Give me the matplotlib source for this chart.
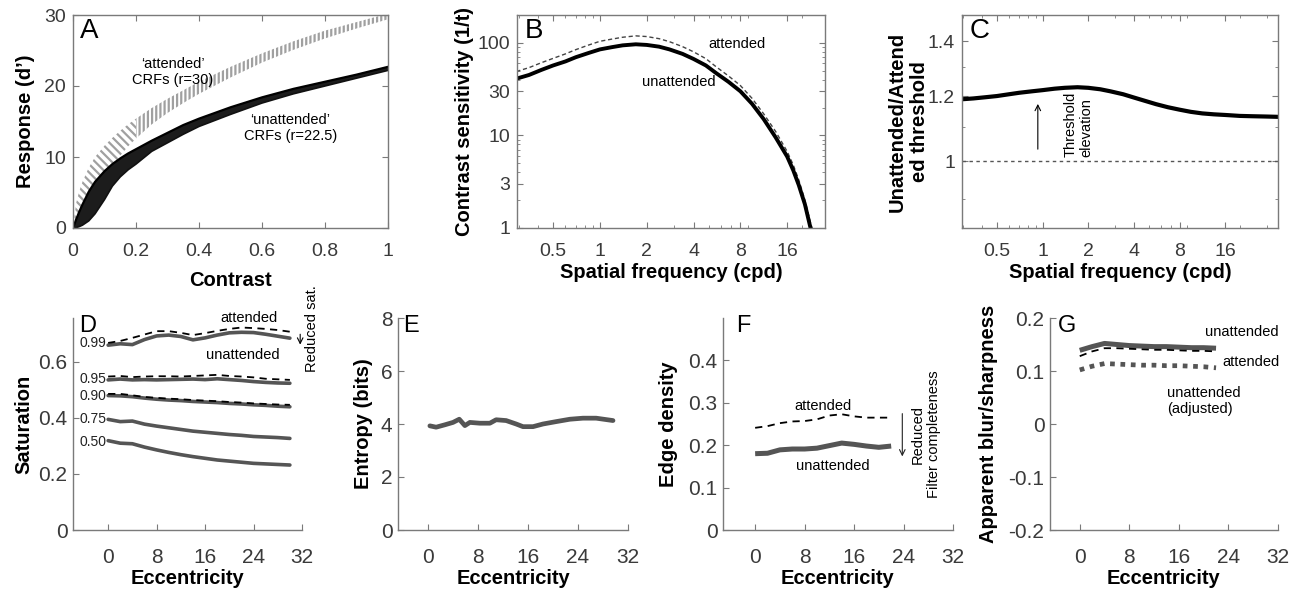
import matplotlib
matplotlib.use("Agg")
import matplotlib.pyplot as plt
import numpy as np
from matplotlib.ticker import FixedLocator, NullFormatter, LogLocator

plt.rcParams['font.family'] = ['Liberation Sans', 'DejaVu Sans']
plt.rcParams['hatch.linewidth'] = 1.6

# ---------------- data ----------------
# Panel A: contrast response function bands
contrast = [0, 0.01, 0.02, 0.03, 0.05, 0.07, 0.1, 0.125, 0.15, 0.175, 0.2, 0.25, 0.3, 0.35, 0.4,
            0.5, 0.6, 0.7, 0.8, 0.9, 1.0]
att_upper = [0, 3.5, 5.2, 6.5, 8.5, 10.0, 11.6, 12.7, 13.7, 14.6, 15.4, 16.9, 18.2, 19.4, 20.6,
             22.7, 24.6, 26.3, 27.8, 29.0, 30.2]
att_lower = [0, 0.3, 0.9, 1.6, 3.2, 4.8, 7.0, 8.8, 10.2, 11.5, 12.6, 14.6, 16.2, 17.6, 18.9,
             21.2, 23.3, 25.1, 26.7, 28.1, 29.4]
unatt_upper = [0, 1.2, 2.3, 3.3, 5.1, 6.5, 8.0, 9.0, 9.8, 10.5, 11.1, 12.3, 13.4, 14.5, 15.4,
               17.0, 18.4, 19.6, 20.6, 21.6, 22.7]
unatt_lower = [0, 0.05, 0.2, 0.4, 1.0, 2.0, 4.0, 5.9, 7.2, 8.2, 9.0, 10.8, 12.0, 13.2, 14.3,
               16.0, 17.6, 18.9, 20.0, 21.1, 22.2]

# Panel B: contrast sensitivity
sf_b = [0.29, 0.35, 0.42, 0.5, 0.6, 0.7, 0.85, 1.0, 1.2, 1.4, 1.7, 2.0, 2.4, 2.8, 3.4, 4.0, 4.8,
        5.6, 6.7, 8.0, 9.5, 11.3, 13.5, 16.0, 17.5, 19.0, 20.8, 22.6, 24.0]
csf_unatt = [41, 45, 51, 57, 63, 70, 78, 85, 90, 94, 96.5, 95, 91, 85, 76, 67, 57,
             47, 38, 30, 22, 15, 9.5, 5.9, 4.2, 2.9, 1.8, 1.0, 0.7]
csf_att = [49, 54, 61, 68, 76, 84.5, 95, 104, 110, 115, 119, 117, 111, 103, 91, 80, 67.5,
           55, 44, 34.6, 25.2, 17.1, 11, 6.7, 4.8, 3.3, 2.0, 1.14, 0.8]

# Panel C: threshold ratio
sf_c = [0.29, 0.35, 0.42, 0.5, 0.6, 0.7, 0.85, 1.0, 1.2, 1.4, 1.7, 2.0, 2.4, 2.8, 3.4, 4.0, 4.8,
        5.6, 6.7, 8.0, 9.5, 11.3, 13.5, 16.0, 20.0, 24.0, 30.0, 36.0]
ratio = [1.189, 1.192, 1.196, 1.200, 1.206, 1.211, 1.216, 1.220, 1.225, 1.228, 1.230, 1.228,
         1.223, 1.216, 1.206, 1.195, 1.183, 1.173, 1.163, 1.155, 1.148, 1.143, 1.140, 1.138,
         1.135, 1.134, 1.133, 1.132]

# Panel D: saturation vs eccentricity
ecc_d = [0, 2, 4, 6, 8, 10, 12, 14, 16, 18, 20, 22, 24, 26, 28, 30]
sat_levels = ['0.99', '0.95', '0.90', '0.75', '0.50']
sat_unatt = [
    [0.660, 0.665, 0.662, 0.680, 0.693, 0.696, 0.691, 0.679, 0.686, 0.696, 0.704, 0.706, 0.705, 0.699, 0.692, 0.685],
    [0.536, 0.539, 0.536, 0.537, 0.536, 0.537, 0.538, 0.539, 0.537, 0.540, 0.537, 0.534, 0.530, 0.527, 0.525, 0.524],
    [0.480, 0.479, 0.476, 0.471, 0.467, 0.464, 0.462, 0.459, 0.457, 0.455, 0.452, 0.450, 0.447, 0.445, 0.442, 0.440],
    [0.395, 0.387, 0.389, 0.378, 0.371, 0.365, 0.359, 0.353, 0.349, 0.345, 0.341, 0.338, 0.334, 0.332, 0.330, 0.327],
    [0.319, 0.310, 0.308, 0.296, 0.286, 0.277, 0.269, 0.262, 0.256, 0.250, 0.246, 0.242, 0.238, 0.236, 0.234, 0.232],
]
sat_att = [
    [0.668, 0.675, 0.686, 0.698, 0.710, 0.710, 0.704, 0.696, 0.703, 0.711, 0.718, 0.723, 0.721, 0.718, 0.714, 0.708],
    [0.548, 0.550, 0.546, 0.548, 0.549, 0.549, 0.548, 0.550, 0.552, 0.554, 0.550, 0.548, 0.545, 0.540, 0.538, 0.536],
    [0.486, 0.486, 0.481, 0.475, 0.472, 0.469, 0.467, 0.464, 0.462, 0.460, 0.457, 0.455, 0.452, 0.450, 0.448, 0.447],
]
sat_label_y = [0.668, 0.539, 0.480, 0.395, 0.315]

# Panel E: entropy
ecc_e = [0.3, 1.3, 2.7, 4.0, 5.0, 5.9, 6.7, 8.3, 9.9, 10.9, 12.5, 14.1, 15.2, 16.8, 18.4, 20.5, 22.7, 24.8, 26.9, 29.6]
entropy = [3.93, 3.88, 3.97, 4.06, 4.18, 3.94, 4.06, 4.03, 4.03, 4.16, 4.13, 4.00, 3.90, 3.90, 4.00, 4.09, 4.18, 4.22, 4.22, 4.13]

# Panel F: edge density
ecc_f = [0, 2, 4, 6, 8, 10, 12, 14, 16, 18, 20, 22]
edge_att = [0.241, 0.245, 0.252, 0.256, 0.257, 0.261, 0.270, 0.273, 0.268, 0.265, 0.265, 0.265]
edge_unatt = [0.180, 0.181, 0.189, 0.191, 0.191, 0.193, 0.199, 0.205, 0.202, 0.198, 0.195, 0.198]

# Panel G: apparent blur/sharpness
ecc_g = [0, 2, 4, 6, 8, 10, 12, 14, 16, 18, 20, 22]
blur_unatt = [0.139, 0.146, 0.152, 0.150, 0.148, 0.147, 0.146, 0.146, 0.145, 0.144, 0.144, 0.143]
blur_att = [0.128, 0.137, 0.143, 0.143, 0.142, 0.141, 0.140, 0.140, 0.139, 0.138, 0.138, 0.137]
blur_adj = [0.102, 0.109, 0.114, 0.113, 0.112, 0.111, 0.111, 0.110, 0.110, 0.109, 0.108, 0.106]

# ---------------- style ----------------
SPINE = '#7a7a7a'
TICKC = '#3a3a3a'
GRAYLINE = '#555555'
TICKFS_TOP = 14
TICKFS_BOT = 15
LABFS = 14.5
ANNFS = 10.5

fig = plt.figure(figsize=(12.97, 5.94), dpi=100)
W, H = 1297.0, 594.0

def add_ax(l, t, r, b):
    return fig.add_axes([l / W, 1 - b / H, (r - l) / W, (b - t) / H])

def box_style(ax):
    for s in ax.spines.values():
        s.set_color(SPINE)
        s.set_linewidth(1.0)
    ax.tick_params(which='both', direction='in', top=True, right=True,
                   colors=SPINE, labelcolor=TICKC, labelsize=TICKFS_TOP)
    ax.tick_params(which='major', length=4)
    ax.tick_params(which='minor', length=2)
    ax.tick_params(axis='x', pad=11)
    ax.tick_params(axis='y', pad=5)

def open_style(ax):
    ax.spines['top'].set_visible(False)
    ax.spines['right'].set_visible(False)
    for s in ['left', 'bottom']:
        ax.spines[s].set_color(SPINE)
        ax.spines[s].set_linewidth(1.0)
    ax.tick_params(which='both', direction='in', colors=SPINE, labelcolor=TICKC,
                   labelsize=TICKFS_BOT, length=4)
    ax.tick_params(axis='x', pad=13)
    ax.tick_params(axis='y', pad=4)

def letter(ax, s, x, y, fs):
    ax.text(x, y, s, transform=ax.transAxes, fontsize=fs, ha='left', va='top', color='black')

# ---------------- Panel A ----------------
axA = add_ax(73, 15, 388, 228)
c = np.array(contrast)
lo_mask = c <= 0.2
hi_mask = c >= 0.2
axA.fill_between(c[lo_mask], np.array(att_lower)[lo_mask], np.array(att_upper)[lo_mask],
                 facecolor='white', edgecolor='#a0a0a0', hatch='\\\\\\\\', linewidth=0)
axA.fill_between(c[hi_mask], np.array(att_lower)[hi_mask], np.array(att_upper)[hi_mask],
                 facecolor='white', edgecolor='#a0a0a0', hatch='||||', linewidth=0)
axA.fill_between(contrast, unatt_lower, unatt_upper, facecolor='#1c1c1c', edgecolor='none')
axA.plot(contrast, unatt_upper, color='black', lw=1.6)
axA.plot(contrast, unatt_lower, color='#111111', lw=1.2)
axA.set_xlim(0, 1)
axA.set_ylim(0, 30)
axA.set_xticks([0, 0.2, 0.4, 0.6, 0.8, 1.0])
axA.set_xticklabels(['0', '0.2', '0.4', '0.6', '0.8', '1'])
axA.set_yticks([0, 10, 20, 30])
box_style(axA)
axA.text(0.317, 22.0, "\u2018attended\u2019\nCRFs (r=30)", ha='center', va='center', fontsize=ANNFS)
axA.text(0.69, 14.1, "\u2018unattended\u2019\nCRFs (r=22.5)", ha='center', va='center', fontsize=ANNFS)
axA.set_xlabel('Contrast', fontsize=LABFS, fontweight='bold')
axA.set_ylabel('Response (d\u2019)', fontsize=LABFS, fontweight='bold')
axA.xaxis.set_label_coords(0.5, -0.2)
axA.yaxis.set_label_coords(-0.12, 0.5)
letter(axA, 'A', 0.022, 0.985, 20)

# ---------------- Panel B ----------------
axB = add_ax(517, 15, 825, 228)
axB.plot(sf_b, csf_att, color='#444444', lw=1.0, ls=(0, (3, 2)))
axB.plot(sf_b, csf_unatt, color='black', lw=2.8)
axB.set_xscale('log')
axB.set_yscale('log')
axB.set_xlim(0.293, 28)
axB.set_ylim(1, 200)
axB.xaxis.set_major_locator(FixedLocator([0.5, 1, 2, 4, 8, 16]))
axB.set_xticklabels(['0.5', '1', '2', '4', '8', '16'])
axB.xaxis.set_minor_locator(LogLocator(base=10, subs=np.arange(2, 10)))
axB.xaxis.set_minor_formatter(NullFormatter())
axB.yaxis.set_major_locator(FixedLocator([1, 3, 10, 30, 100]))
axB.set_yticklabels(['1', '3', '10', '30', '100'])
axB.yaxis.set_minor_locator(LogLocator(base=10, subs=np.arange(2, 10)))
axB.yaxis.set_minor_formatter(NullFormatter())
box_style(axB)
axB.text(7.6, 97, 'attended', ha='center', va='center', fontsize=ANNFS)
axB.text(3.23, 37.4, 'unattended', ha='center', va='center', fontsize=ANNFS)
axB.set_xlabel('Spatial frequency (cpd)', fontsize=LABFS, fontweight='bold')
axB.set_ylabel('Contrast sensitivity (1/t)', fontsize=LABFS, fontweight='bold')
axB.xaxis.set_label_coords(0.5, -0.165)
axB.yaxis.set_label_coords(-0.14, 0.5)
letter(axB, 'B', 0.026, 0.985, 20)

# ---------------- Panel C ----------------
axC = add_ax(962, 15, 1278, 228)
axC.axhline(1.0, color='#555555', lw=1.0, ls=(0, (2.5, 2.5)))
axC.plot(sf_c, ratio, color='black', lw=3.0)
axC.set_xscale('log')
axC.set_yscale('log')
axC.set_xlim(0.294, 35.7)
axC.set_ylim(0.829, 1.506)
axC.xaxis.set_major_locator(FixedLocator([0.5, 1, 2, 4, 8, 16]))
axC.set_xticklabels(['0.5', '1', '2', '4', '8', '16'])
axC.xaxis.set_minor_locator(LogLocator(base=10, subs=np.arange(2, 10)))
axC.xaxis.set_minor_formatter(NullFormatter())
axC.yaxis.set_major_locator(FixedLocator([1.0, 1.2, 1.4]))
axC.set_yticklabels(['1', '1.2', '1.4'])
axC.yaxis.set_minor_locator(FixedLocator([0.9, 1.1, 1.3]))
axC.yaxis.set_minor_formatter(NullFormatter())
box_style(axC)
axC.annotate('', xy=(0.93, 1.183), xytext=(0.93, 1.026),
             arrowprops=dict(arrowstyle='->', color='black', lw=0.8))
axC.text(1.73, 1.011, 'Threshold\nelevation', rotation=90, ha='center', va='bottom',
         multialignment='left', fontsize=ANNFS)
axC.set_xlabel('Spatial frequency (cpd)', fontsize=LABFS, fontweight='bold')
axC.set_ylabel('Unattended/Attend\ned threshold', fontsize=LABFS, fontweight='bold')
axC.xaxis.set_label_coords(0.5, -0.165)
axC.yaxis.set_label_coords(-0.105, 0.5)
letter(axC, 'C', 0.025, 0.985, 20)

# ---------------- Panel D ----------------
axD = add_ax(73, 318, 302, 530)
for i in range(len(sat_levels)):
    axD.plot(ecc_d, sat_unatt[i], color=GRAYLINE, lw=2.6, solid_capstyle='round')
for i in range(len(sat_att)):
    axD.plot(ecc_d, sat_att[i], color='black', lw=1.3, ls=(0, (4, 3)))
for lab, yv in zip(sat_levels, sat_label_y):
    axD.text(-0.3, yv, lab, ha='right', va='center', fontsize=10, color='#222222')
axD.set_xlim(-5.8, 32)
axD.set_ylim(0, 0.757)
axD.set_xticks([0, 8, 16, 24, 32])
axD.set_yticks([0, 0.2, 0.4, 0.6])
axD.set_yticklabels(['0', '0.2', '0.4', '0.6'])
open_style(axD)
axD.text(23.3, 0.757, 'attended', ha='center', va='center', fontsize=ANNFS, clip_on=False)
axD.text(22.3, 0.625, 'unattended', ha='center', va='center', fontsize=ANNFS)
axD.annotate('', xy=(31.7, 0.652), xytext=(31.7, 0.709),
             arrowprops=dict(arrowstyle='->', color='black', lw=0.8), annotation_clip=False)
axD.text(33.6, 0.564, 'Reduced sat.', rotation=90, ha='center', va='bottom', fontsize=ANNFS,
         clip_on=False)
axD.set_xlabel('Eccentricity', fontsize=LABFS, fontweight='bold')
axD.set_ylabel('Saturation', fontsize=LABFS, fontweight='bold')
axD.xaxis.set_label_coords(0.5, -0.185)
axD.yaxis.set_label_coords(-0.175, 0.5)
letter(axD, 'D', 0.026, 1.015, 17)

# ---------------- Panel E ----------------
axE = add_ax(398, 318, 628, 530)
axE.plot(ecc_e, entropy, color=GRAYLINE, lw=3.4, solid_capstyle='round', solid_joinstyle='round')
axE.set_xlim(-4.8, 32)
axE.set_ylim(0, 8)
axE.set_xticks([0, 8, 16, 24, 32])
axE.set_yticks([0, 2, 4, 6, 8])
open_style(axE)
axE.set_xlabel('Eccentricity', fontsize=LABFS, fontweight='bold')
axE.set_ylabel('Entropy (bits)', fontsize=LABFS, fontweight='bold')
axE.xaxis.set_label_coords(0.5, -0.185)
axE.yaxis.set_label_coords(-0.11, 0.5)
letter(axE, 'E', 0.022, 1.015, 17)

# ---------------- Panel F ----------------
axF = add_ax(723, 318, 953, 530)
axF.plot(ecc_f, edge_att, color='black', lw=1.3, ls=(0, (4, 3)))
axF.plot(ecc_f, edge_unatt, color=GRAYLINE, lw=3.6, solid_capstyle='butt')
axF.set_xlim(-5.2, 32)
axF.set_ylim(0, 0.5)
axF.set_xticks([0, 8, 16, 24, 32])
axF.set_yticks([0, 0.1, 0.2, 0.3, 0.4])
axF.set_yticklabels(['0', '0.1', '0.2', '0.3', '0.4'])
open_style(axF)
axF.text(11.0, 0.293, 'attended', ha='center', va='center', fontsize=ANNFS)
axF.text(12.6, 0.152, 'unattended', ha='center', va='center', fontsize=ANNFS)
axF.annotate('', xy=(23.8, 0.167), xytext=(23.8, 0.281),
             arrowprops=dict(arrowstyle='->', color='#222222', lw=0.8))
axF.text(27.6, 0.226, 'Reduced\nFilter completeness', rotation=90, ha='center', va='center',
         multialignment='center', fontsize=ANNFS, clip_on=False)
axF.set_xlabel('Eccentricity', fontsize=LABFS, fontweight='bold')
axF.set_ylabel('Edge density', fontsize=LABFS, fontweight='bold')
axF.xaxis.set_label_coords(0.5, -0.185)
axF.yaxis.set_label_coords(-0.195, 0.5)
letter(axF, 'F', 0.057, 1.015, 17)

# ---------------- Panel G ----------------
axG = add_ax(1050, 318, 1278, 530)
axG.plot(ecc_g, blur_unatt, color=GRAYLINE, lw=3.6, solid_capstyle='butt')
axG.plot(ecc_g, blur_att, color='black', lw=1.3, ls=(0, (4, 3)))
axG.plot(ecc_g, blur_adj, color=GRAYLINE, lw=3.4, ls=(0, (1, 1.2)), dash_capstyle='butt')
axG.set_xlim(-4.8, 32)
axG.set_ylim(-0.2, 0.2)
axG.set_xticks([0, 8, 16, 24, 32])
axG.set_yticks([-0.2, -0.1, 0, 0.1, 0.2])
axG.set_yticklabels(['-0.2', '-0.1', '0', '0.1', '0.2'])
open_style(axG)
axG.text(26.2, 0.174, 'unattended', ha='center', va='center', fontsize=ANNFS, clip_on=False)
axG.text(27.7, 0.117, 'attended', ha='center', va='center', fontsize=ANNFS, clip_on=False)
axG.text(14.1, 0.043, 'unattended\n(adjusted)', ha='left', va='center', multialignment='left',
         fontsize=ANNFS)
axG.set_xlabel('Eccentricity', fontsize=LABFS, fontweight='bold')
axG.set_ylabel('Apparent blur/sharpness', fontsize=LABFS, fontweight='bold')
axG.xaxis.set_label_coords(0.5, -0.185)
axG.yaxis.set_label_coords(-0.23, 0.5)
letter(axG, 'G', 0.035, 1.015, 17)

fig.savefig('out.png', dpi=100)
